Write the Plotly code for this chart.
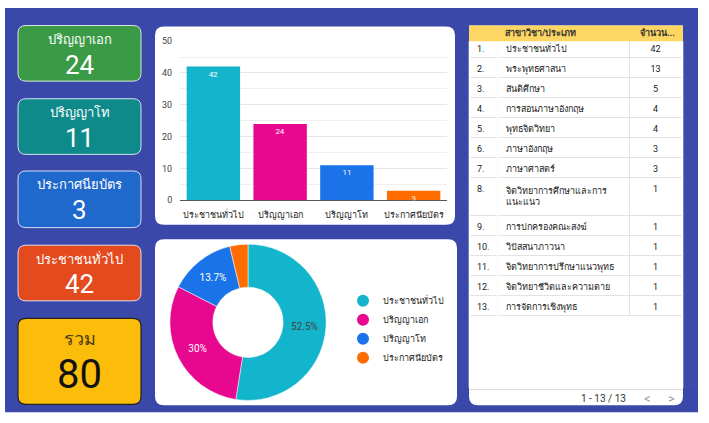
import plotly.graph_objects as go

W, H = 709, 423

# ---------------- data ----------------
card_titles = ["ปริญญาเอก", "ปริญญาโท", "ประกาศนียบัตร", "ประชาชนทั่วไป"]
card_values = [24, 11, 3, 42]
total_title = "รวม"
total_value = 80

bar_categories = ["ประชาชนทั่วไป", "ปริญญาเอก", "ปริญญาโท", "ประกาศนียบัตร"]
bar_values = [42, 24, 11, 3]

pie_labels = ["ประชาชนทั่วไป", "ปริญญาเอก", "ปริญญาโท", "ประกาศนียบัตร"]
pie_values = [42, 24, 11, 3]
pie_text = ["52.5%", "30%", "13.7%", ""]

table_header = ["", "สาขาวิชา/ประเภท", "จำนวน..."]
table_index = ["1.", "2.", "3.", "4.", "5.", "6.", "7.", "8.", "9.", "10.", "11.", "12.", "13."]
table_names = ["ประชาชนทั่วไป", "พระพุทธศาสนา", "สันติศึกษา", "การสอนภาษาอังกฤษ",
               "พุทธจิตวิทยา", "ภาษาอังกฤษ", "ภาษาศาสตร์",
               "จิตวิทยาการศึกษาและการ<br>แนะแนว", "การปกครองคณะสงฆ์", "วิปัสสนาภาวนา",
               "จิตวิทยาการปรึกษาแนวพุทธ", "จิตวิทยาชีวิตและความตาย", "การจัดการเชิงพุทธ"]
table_counts = [42, 13, 5, 4, 4, 3, 3, 1, 1, 1, 1, 1, 1]
pager_text = "1 - 13 / 13"

# ---------------- styles ----------------
FONT = "Roboto, 'Noto Sans', sans-serif"
BG = "#3a48a9"
HEADER_FILL = "#fdd663"
series_colors = ["#12b5cb", "#e8088f", "#1a73e8", "#ff6d01"]
card_colors = ["#3b9a45", "#0f8a8a", "#1f68cc", "#e34a1e"]
card_y = [(21, 78), (96, 153), (170, 228), (246, 303)]


def X(x):
    return x / W


def Y(y):
    return 1 - y / H


def rrect(x0, y0, x1, y1, r, rt=True, rb=True):
    rx, ry = r / W, r / H
    a, b, c, d = X(x0), Y(y0), X(x1), Y(y1)
    p = []
    if rt:
        p.append(f"M{a+rx},{b} L{c-rx},{b} Q{c},{b} {c},{b-ry}")
    else:
        p.append(f"M{a},{b} L{c},{b}")
    if rb:
        p.append(f"L{c},{d+ry} Q{c},{d} {c-rx},{d} L{a+rx},{d} Q{a},{d} {a},{d+ry}")
    else:
        p.append(f"L{c},{d} L{a},{d}")
    if rt:
        p.append(f"L{a},{b-ry} Q{a},{b} {a+rx},{b} Z")
    else:
        p.append("Z")
    return " ".join(p)


shapes = []
annotations = []

# blue background
shapes.append(dict(type="rect", xref="paper", yref="paper", x0=X(5), x1=X(698),
                   y0=Y(417), y1=Y(3), fillcolor=BG, line=dict(width=0), layer="below"))

# cards
for (t, v, col, (y0, y1)) in zip(card_titles, card_values, card_colors, card_y):
    shapes.append(dict(type="path", xref="paper", yref="paper", path=rrect(18, y0, 141, y1, 8),
                       fillcolor=col, line=dict(color="rgba(255,255,255,0.8)", width=1), layer="below"))
    annotations.append(dict(xref="paper", yref="paper", x=X(79.5), y=Y(y0 + 14), text=t,
                            showarrow=False, font=dict(family=FONT, size=13, color="white"),
                            xanchor="center", yanchor="middle"))
    annotations.append(dict(xref="paper", yref="paper", x=X(79.5), y=Y(y0 + 40), text=str(v),
                            showarrow=False, font=dict(family=FONT, size=26, color="white"),
                            xanchor="center", yanchor="middle"))

shapes.append(dict(type="path", xref="paper", yref="paper", path=rrect(18, 321, 141, 409, 8),
                   fillcolor="#fbbd0a", line=dict(color="#222222", width=1.2), layer="below"))
annotations.append(dict(xref="paper", yref="paper", x=X(79.5), y=Y(342), text=total_title,
                        showarrow=False, font=dict(family=FONT, size=18, color="#4a3a10"),
                        xanchor="center", yanchor="middle"))
annotations.append(dict(xref="paper", yref="paper", x=X(79.5), y=Y(378), text=str(total_value),
                        showarrow=False, font=dict(family=FONT, size=40, color="#111111"),
                        xanchor="center", yanchor="middle"))

# white panels
shapes.append(dict(type="path", xref="paper", yref="paper", path=rrect(155, 22, 455, 225, 9),
                   fillcolor="white", line=dict(width=0), layer="below"))
shapes.append(dict(type="path", xref="paper", yref="paper", path=rrect(155, 240, 457, 410, 9),
                   fillcolor="white", line=dict(width=0), layer="below"))
shapes.append(dict(type="path", xref="paper", yref="paper", path=rrect(469, 21, 683, 410, 9, rt=False),
                   fillcolor="white", line=dict(width=0), layer="below"))
# cover vertical borders not present in the original
for xv in (469.5, 498, 682.5):
    shapes.append(dict(type="line", xref="paper", yref="paper", x0=X(xv), x1=X(xv),
                       y0=Y(37), y1=Y(392), line=dict(color="white", width=1.6), layer="above"))
# table header band (drawn above the table)
shapes.append(dict(type="rect", xref="paper", yref="paper", x0=X(469), x1=X(683),
                   y0=Y(37), y1=Y(21), fillcolor=HEADER_FILL, line=dict(width=0), layer="above"))
annotations.append(dict(xref="paper", yref="paper", x=X(503), y=Y(29), text="<b>" + table_header[1] + "</b>",
                        showarrow=False, font=dict(family=FONT, size=9, color="#333333"),
                        xanchor="left", yanchor="middle"))
annotations.append(dict(xref="paper", yref="paper", x=X(657), y=Y(29), text="<b>" + table_header[2] + "</b>",
                        showarrow=False, font=dict(family=FONT, size=9, color="#333333"),
                        xanchor="center", yanchor="middle"))
# pager line and text
shapes.append(dict(type="line", xref="paper", yref="paper", x0=X(469), x1=X(683),
                   y0=Y(394), y1=Y(394), line=dict(color="#d9d9d9", width=1), layer="below"))
annotations.append(dict(xref="paper", yref="paper", x=X(628), y=Y(403), text=pager_text,
                        showarrow=False, font=dict(family=FONT, size=10, color="#333333"),
                        xanchor="right", yanchor="middle"))
annotations.append(dict(xref="paper", yref="paper", x=X(647), y=Y(403), text="&lt;",
                        showarrow=False, font=dict(family=FONT, size=13, color="#999999"),
                        xanchor="center", yanchor="middle"))
annotations.append(dict(xref="paper", yref="paper", x=X(671), y=Y(403), text="&gt;",
                        showarrow=False, font=dict(family=FONT, size=13, color="#999999"),
                        xanchor="center", yanchor="middle"))

fig = go.Figure()

# bar chart
fig.add_trace(go.Bar(
    x=bar_categories, y=bar_values, marker=dict(color=series_colors, line=dict(width=0)),
    text=[str(v) for v in bar_values], textposition="inside", insidetextanchor="end",
    textangle=0, constraintext="none",
    textfont=dict(family=FONT, size=8, color="white"),
    showlegend=False, xaxis="x", yaxis="y", hoverinfo="skip"))

# donut
fig.add_trace(go.Pie(
    labels=pie_labels, values=pie_values, hole=0.45, sort=False, direction="clockwise",
    rotation=0, marker=dict(colors=series_colors, line=dict(color="white", width=0.5)),
    text=pie_text, textinfo="text", textposition="inside", insidetextorientation="horizontal",
    textfont=dict(family=FONT, size=10, color=["#444444", "white", "white", "white"]),
    domain=dict(x=[X(168), X(328)], y=[Y(405), Y(245)]), showlegend=False, hoverinfo="skip"))

# legend entries (circles)
for lab, col in zip(pie_labels, series_colors):
    fig.add_trace(go.Scatter(x=[None], y=[None], mode="markers", name=lab,
                             marker=dict(color=col, size=11, symbol="circle"),
                             xaxis="x2", yaxis="y2", showlegend=True))

# table (header band + text drawn above; the table's own empty header is transparent)
fig.add_trace(go.Table(
    domain=dict(x=[X(469), X(683)], y=[Y(394), Y(17)]),
    columnwidth=[29, 132, 53],
    header=dict(values=[], height=16, fill_color="rgba(0,0,0,0)",
                line=dict(color="rgba(0,0,0,0)", width=0)),
    cells=dict(values=[table_index, table_names, table_counts], fill_color="white", height=20,
               align=["left", "left", "center"],
               line=dict(color="#e3e3e3", width=1),
               font=dict(family=FONT, size=9, color="#222222"))))

fig.update_layout(
    width=W, height=H, margin=dict(l=0, r=0, t=0, b=0),
    paper_bgcolor="white", plot_bgcolor="rgba(0,0,0,0)",
    font=dict(family=FONT),
    bargap=0.2,
    xaxis=dict(domain=[X(180), X(447)], anchor="y", showgrid=False, ticks="outside",
               ticklen=6, tickcolor="rgba(0,0,0,0)",
               tickfont=dict(family=FONT, size=9, color="#222222"), fixedrange=True,
               showline=False),
    yaxis=dict(domain=[Y(200), Y(37)], anchor="x", range=[0, 50], dtick=10,
               showgrid=True, gridcolor="#e6e6e6", zeroline=True, zerolinecolor="#555555",
               zerolinewidth=1, ticks="outside", ticklen=5, tickcolor="rgba(0,0,0,0)",
               tickfont=dict(family=FONT, size=9, color="#444444"),
               minor=dict(dtick=5, showgrid=True, gridcolor="#efefef"), fixedrange=True),
    xaxis2=dict(domain=[0, 0.01], anchor="y2", visible=False),
    yaxis2=dict(domain=[0, 0.01], anchor="x2", visible=False),
    legend=dict(x=X(343), y=Y(288), xanchor="left", yanchor="top", bgcolor="rgba(0,0,0,0)",
                font=dict(family=FONT, size=9, color="#222222"), tracegroupgap=0,
                itemsizing="constant"),
    shapes=shapes, annotations=annotations,
)

fig.write_html("out.html", config={"displayModeBar": False},
               post_script="document.body.style.margin='0';document.body.style.overflow='hidden';")
